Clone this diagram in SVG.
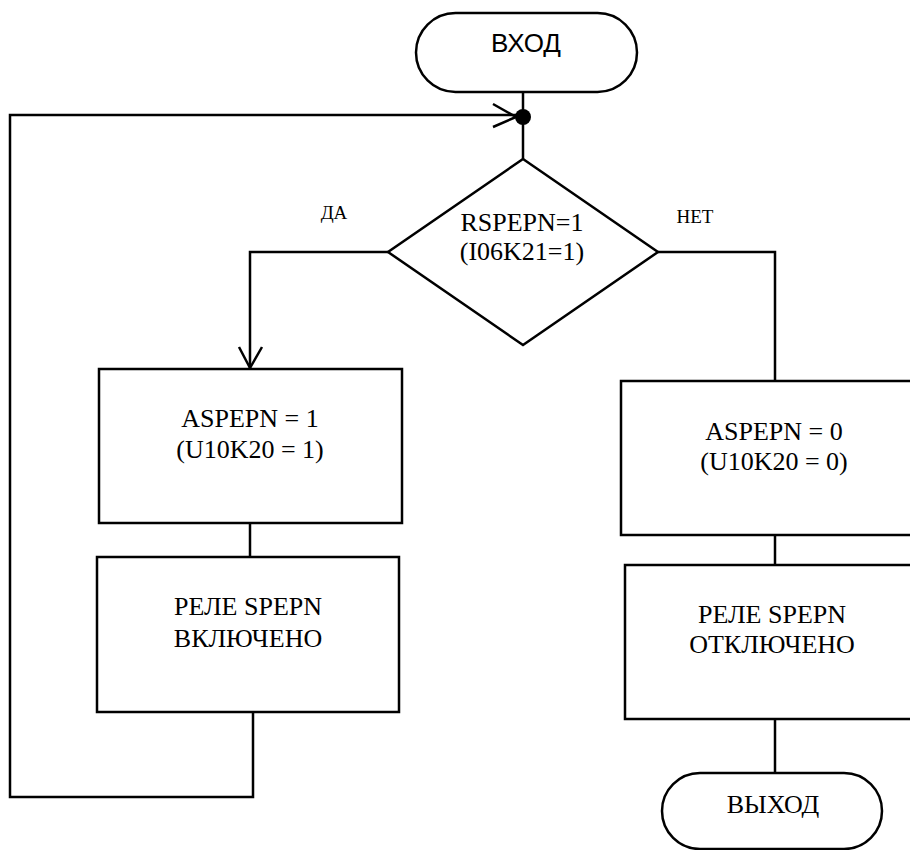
<svg xmlns="http://www.w3.org/2000/svg" width="910" height="850" viewBox="0 0 910 850">
<style>
.s{fill:#fff;stroke:#000;stroke-width:2.5}
.c{fill:none;stroke:#000;stroke-width:2.5}
.t{font-family:"Liberation Serif","Times New Roman",serif;font-size:26px;text-anchor:middle;fill:#000}
.l{font-family:"Liberation Serif","Times New Roman",serif;font-size:19px;text-anchor:middle;fill:#000}
.a{font-family:"Liberation Sans",Arial,sans-serif;font-size:26px;text-anchor:middle;fill:#000}
</style>
<rect width="910" height="850" fill="#fff"/>
<g id="connectors">
<path class="c" d="M523 92 V159"/>
<path class="c" d="M388 252 H250 V368"/>
<path class="c" d="M239 347 L250 368 L262 347"/>
<path class="c" d="M658 252 H775 V381"/>
<path class="c" d="M250 523 V557"/>
<path class="c" d="M253 712 V797 H10 V115 H516"/>
<path class="c" d="M493 104 L516 117 L493 127"/>
<path class="c" d="M775 535 V565"/>
<path class="c" d="M775 719 V773"/>
<circle cx="523" cy="117" r="8" fill="#000"/>
<text class="l" x="334" y="219">ДА</text>
<text class="l" x="695" y="223">НЕТ</text>
</g>
<g id="start">
<rect class="s" x="416" y="13" width="221" height="79" rx="39.5"/>
<text class="a" x="526" y="52">ВХОД</text>
</g>
<g id="decision">
<polygon class="s" points="523,159 658,252 523,345 388,252"/>
<text class="t" x="522" y="231">RSPEPN=1</text>
<text class="t" x="522" y="260">(I06K21=1)</text>
</g>
<g id="set1">
<rect class="s" x="99" y="369" width="303" height="154"/>
<text class="t" x="250" y="427">ASPEPN = 1</text>
<text class="t" x="250" y="458">(U10K20 = 1)</text>
</g>
<g id="relayOn">
<rect class="s" x="97" y="557" width="302" height="155"/>
<text class="t" x="248" y="615">РЕЛЕ SPEPN</text>
<text class="t" x="248" y="647">ВКЛЮЧЕНО</text>
</g>
<g id="set0">
<rect class="s" x="621" y="381" width="308" height="154"/>
<text class="t" x="774" y="440">ASPEPN = 0</text>
<text class="t" x="774" y="470">(U10K20 = 0)</text>
</g>
<g id="relayOff">
<rect class="s" x="625" y="565" width="302" height="154"/>
<text class="t" x="772" y="623">РЕЛЕ SPEPN</text>
<text class="t" x="772" y="653">ОТКЛЮЧЕНО</text>
</g>
<g id="end">
<rect class="s" x="662" y="773" width="220" height="76" rx="38"/>
<text class="t" x="773" y="813">ВЫХОД</text>
</g>
</svg>
